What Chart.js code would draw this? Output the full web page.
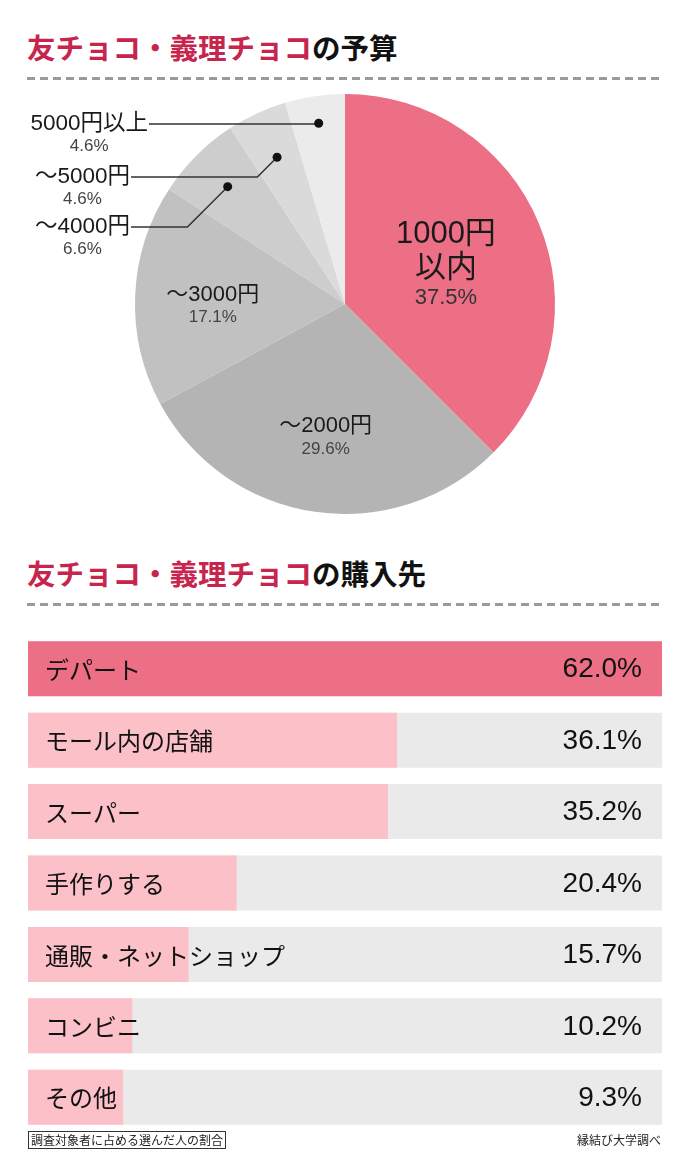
<!DOCTYPE html>
<html lang="ja">
<head>
<meta charset="utf-8">
<script src="https://cdn.jsdelivr.net/npm/chart.js@4/dist/chart.umd.min.js"></script>
<style>
  body { margin: 0; background: #fff; width: 690px; height: 1154px; position: relative; overflow: hidden;
         font-family: "Noto Sans CJK JP", sans-serif; }
  .title { position: absolute; left: 27px; font-size: 28.5px; font-weight: bold; color: #111; line-height: 1; white-space: nowrap; }
  .title .pk { color: #C7254D; }
  .dash { position: absolute; left: 27px; width: 636px; height: 3px;
          background: repeating-linear-gradient(90deg, #9a9a9a 0 8px, transparent 8px 13px); }
  #pieBox { position: absolute; left: 0; top: 94px; width: 690px; height: 420px; }
  #barBox { position: absolute; left: 28px; top: 633px; width: 634px; height: 500px; }
  .note { position: absolute; left: 28px; top: 1131px; border: 1px solid #333; font-size: 12px; line-height: 16px;
          padding: 0 2px; color: #222; }
  .src { position: absolute; right: 29px; top: 1132px; font-size: 12px; line-height: 16px; color: #222; }
</style>
</head>
<body>
<div class="title" style="top:33px"><span class="pk">友チョコ・義理チョコ</span>の予算</div>
<div class="dash" style="top:77px"></div>
<div id="pieBox"><canvas id="pie"></canvas></div>

<div class="title" style="top:559px"><span class="pk">友チョコ・義理チョコ</span>の購入先</div>
<div class="dash" style="top:603px"></div>
<div id="barBox"><canvas id="bar"></canvas></div>

<div class="note">調査対象者に占める選んだ人の割合</div>
<div class="src">縁結び大学調べ</div>

<script>
// 予算（円グラフ）
const budgetLabels = ['1000円以内', '～2000円', '～3000円', '～4000円', '～5000円', '5000円以上'];
const budgetValues = [37.5, 29.6, 17.1, 6.6, 4.6, 4.6];
const budgetColors = ['#EC6F86', '#B4B4B4', '#C1C1C1', '#CDCDCD', '#DADADA', '#EBEBEB'];

// 購入先（横棒）
const shopLabels = ['デパート', 'モール内の店舗', 'スーパー', '手作りする', '通販・ネットショップ', 'コンビニ', 'その他'];
const shopValues = [62.0, 36.1, 35.2, 20.4, 15.7, 10.2, 9.3];
const shopMax = 62;

const numFont = '"Liberation Sans", "Noto Sans CJK JP", sans-serif';

function arcPoint(arc, f) {
  const p = arc.getProps(['x', 'y', 'startAngle', 'endAngle', 'outerRadius'], true);
  const a = (p.startAngle + p.endAngle) / 2;
  return { x: p.x + Math.cos(a) * p.outerRadius * f, y: p.y + Math.sin(a) * p.outerRadius * f };
}

const pieLabels = {
  id: 'pieLabels',
  afterDraw(chart) {
    const ctx = chart.ctx;
    const arcs = chart.getDatasetMeta(0).data;
    const top = chart.canvas.getBoundingClientRect().top;
    ctx.save();
    ctx.textAlign = 'center';
    ctx.textBaseline = 'middle';

    // 内側のラベル
    let p = arcPoint(arcs[0], 0.52);
    ctx.fillStyle = '#1a1a1a';
    ctx.font = '31px ' + numFont;
    ctx.fillText('1000円', p.x, p.y - 28);
    ctx.fillText('以内', p.x, p.y + 6);
    ctx.fillStyle = '#333';
    ctx.font = '22px ' + numFont;
    ctx.fillText(budgetValues[0].toFixed(1) + '%', p.x, p.y + 36);

    [[1, 0.64, 0], [2, 0.63, 7]].forEach(([i, f, dy]) => {
      const q = arcPoint(arcs[i], f);
      ctx.fillStyle = '#1a1a1a';
      ctx.font = '22px ' + numFont;
      ctx.fillText(budgetLabels[i], q.x, q.y - 11 + dy);
      ctx.fillStyle = '#444';
      ctx.font = '17px ' + numFont;
      ctx.fillText(budgetValues[i].toFixed(1) + '%', q.x, q.y + 12 + dy);
    });

    // 外側のラベルと引き出し線
    const outer = [
      { i: 5, f: 0.87, right: 148, y: 124 - top },
      { i: 4, f: 0.77, right: 130, y: 177 - top },
      { i: 3, f: 0.79, right: 130, y: 227 - top }
    ];
    outer.forEach(o => {
      const d = arcPoint(arcs[o.i], o.f);
      ctx.font = '22.5px ' + numFont;
      ctx.textAlign = 'right';
      ctx.fillStyle = '#1a1a1a';
      ctx.fillText(budgetLabels[o.i], o.right, o.y);
      const w = ctx.measureText(budgetLabels[o.i]).width;
      ctx.textAlign = 'center';
      ctx.fillStyle = '#444';
      ctx.font = '17px ' + numFont;
      ctx.fillText(budgetValues[o.i].toFixed(1) + '%', o.right - w / 2, o.y + 22);

      const elbow = d.x - Math.abs(d.y - o.y);
      ctx.strokeStyle = '#333';
      ctx.lineWidth = 1.5;
      ctx.beginPath();
      ctx.moveTo(o.right + 1, o.y);
      ctx.lineTo(elbow, o.y);
      ctx.lineTo(d.x, d.y);
      ctx.stroke();
      ctx.fillStyle = '#111';
      ctx.beginPath();
      ctx.arc(d.x, d.y, 4.5, 0, Math.PI * 2);
      ctx.fill();
    });
    ctx.restore();
  }
};

new Chart(document.getElementById('pie'), {
  type: 'pie',
  data: {
    labels: budgetLabels,
    datasets: [{ data: budgetValues, backgroundColor: budgetColors, borderWidth: 0 }]
  },
  options: {
    responsive: true,
    maintainAspectRatio: false,
    animation: false,
    layout: { padding: 0 },
    plugins: { legend: { display: false }, tooltip: { enabled: false } }
  },
  plugins: [pieLabels]
});

const barLabels = {
  id: 'barLabels',
  afterDatasetsDraw(chart) {
    const ctx = chart.ctx;
    const area = chart.chartArea;
    const bars = chart.getDatasetMeta(0).data;
    ctx.save();
    ctx.textBaseline = 'middle';
    ctx.fillStyle = '#111';
    bars.forEach((b, i) => {
      ctx.textAlign = 'left';
      ctx.font = '24px "Noto Sans CJK JP", sans-serif';
      ctx.fillText(shopLabels[i], area.left + 17, b.y + 1);
      ctx.textAlign = 'right';
      ctx.font = '28px ' + numFont;
      ctx.fillText(shopValues[i].toFixed(1) + '%', area.right - 20, b.y + 1);
    });
    ctx.restore();
  }
};

new Chart(document.getElementById('bar'), {
  type: 'bar',
  data: {
    labels: shopLabels,
    datasets: [
      {
        data: shopValues,
        backgroundColor: shopValues.map((v, i) => i === 0 ? '#EC6F86' : '#FCC0C8'),
        order: 0
      },
      {
        data: shopLabels.map(() => shopMax),
        backgroundColor: '#EAEAEA',
        order: 1
      }
    ]
  },
  options: {
    indexAxis: 'y',
    responsive: true,
    maintainAspectRatio: false,
    animation: false,
    layout: { padding: 0 },
    datasets: { bar: { grouped: false, barPercentage: 1, categoryPercentage: 0.77, borderWidth: 0 } },
    scales: {
      x: { display: false, min: 0, max: shopMax },
      y: { display: false }
    },
    plugins: { legend: { display: false }, tooltip: { enabled: false } }
  },
  plugins: [barLabels]
});
</script>
</body>
</html>
